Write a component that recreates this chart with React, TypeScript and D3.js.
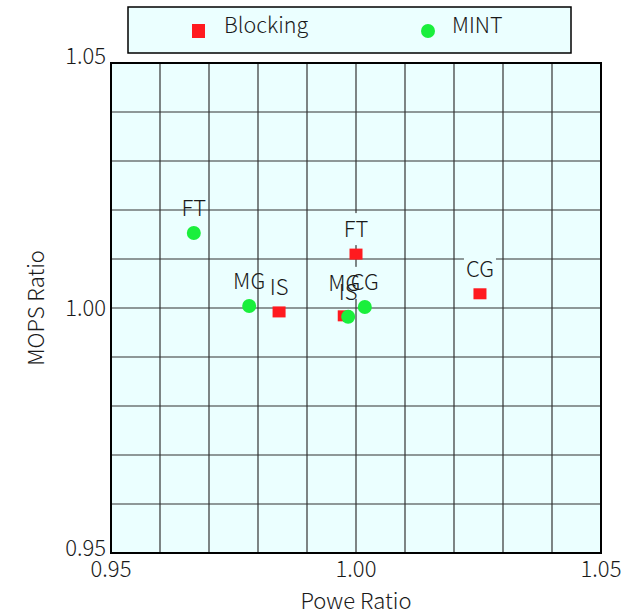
import React, { useEffect, useRef } from 'react';
import * as d3 from 'd3';

const blockingLabels = ['IS', 'FT', 'CG', 'MG'];
const blockingPower = [0.9843, 1.0, 1.0253, 0.9976];
const blockingMops = [0.9992, 1.011, 1.0029, 0.9984];

const mintLabels = ['FT', 'MG', 'IS', 'CG'];
const mintPower = [0.9669, 0.9782, 0.9984, 1.0018];
const mintMops = [1.0153, 1.0004, 0.9982, 1.0002];

const tickValues = [0.95, 1.0, 1.05];
const gridValues = d3.range(0, 11).map(i => 0.95 + i * 0.01);

const FONT = '"Noto Sans CJK JP", "Noto Sans", sans-serif';
const BG = '#ebffff';
const RED = '#ff1a1f';
const GREEN = '#1aef3c';

function App() {
  const svgRef = useRef<SVGSVGElement>(null);
  const width = 628;
  const height = 615;

  useEffect(() => {
    if (!svgRef.current) return;
    const svg = d3.select(svgRef.current);
    svg.selectAll('*').remove();

    const margin = { top: 63, right: 27, bottom: 62, left: 111 };
    const innerWidth = width - margin.left - margin.right;
    const innerHeight = height - margin.top - margin.bottom;

    const x = d3.scaleLinear().domain([0.95, 1.05]).range([0, innerWidth]);
    const y = d3.scaleLinear().domain([0.95, 1.05]).range([innerHeight, 0]);

    const g = svg.append('g').attr('transform', `translate(${margin.left},${margin.top})`);

    const txt = (sel: d3.Selection<SVGTextElement, any, any, any>, size: number) =>
      sel.style('font-family', FONT)
        .style('font-size', `${size}px`)
        .style('font-weight', 300)
        .style('fill', '#1a1a1a');

    // plot background
    g.append('rect')
      .attr('width', innerWidth)
      .attr('height', innerHeight)
      .attr('fill', BG);

    // grid
    g.selectAll('.vgrid')
      .data(gridValues)
      .enter().append('line')
      .attr('x1', d => x(d)).attr('x2', d => x(d))
      .attr('y1', 0).attr('y2', innerHeight)
      .attr('stroke', '#333')
      .attr('stroke-width', 1.2);
    g.selectAll('.hgrid')
      .data(gridValues)
      .enter().append('line')
      .attr('y1', d => y(d)).attr('y2', d => y(d))
      .attr('x1', 0).attr('x2', innerWidth)
      .attr('stroke', '#333')
      .attr('stroke-width', 1.2);

    // border
    g.append('rect')
      .attr('width', innerWidth)
      .attr('height', innerHeight)
      .attr('fill', 'none')
      .attr('stroke', '#000')
      .attr('stroke-width', 2);

    // tick labels
    txt(g.selectAll('.xtick')
      .data(tickValues)
      .enter().append('text')
      .attr('x', d => x(d))
      .attr('y', innerHeight + 24)
      .attr('text-anchor', 'middle')
      .text(d => d.toFixed(2)), 22);

    txt(g.selectAll('.ytick')
      .data(tickValues)
      .enter().append('text')
      .attr('x', -5)
      .attr('y', d => y(d) + (d === 1.0 ? 8 : d === 0.95 ? 3 : 1))
      .attr('text-anchor', 'end')
      .text(d => d.toFixed(2)), 22);

    // axis titles
    txt(svg.append('text')
      .attr('x', margin.left + innerWidth / 2)
      .attr('y', 609)
      .attr('text-anchor', 'middle')
      .text('Powe Ratio'), 22);

    txt(svg.append('text')
      .attr('transform', `translate(44,${margin.top + innerHeight / 2}) rotate(-90)`)
      .attr('text-anchor', 'middle')
      .text('MOPS Ratio'), 22);

    const blocking = blockingLabels.map((l, i) => ({ label: l, px: blockingPower[i], py: blockingMops[i], red: true }));
    const mint = mintLabels.map((l, i) => ({ label: l, px: mintPower[i], py: mintMops[i], red: false }));

    // points
    g.selectAll('.sq')
      .data(blocking)
      .enter().append('rect')
      .attr('x', d => x(d.px) - 6.5)
      .attr('y', d => y(d.py) - 5.5)
      .attr('width', 13)
      .attr('height', 11)
      .attr('fill', RED);

    g.selectAll('.dot')
      .data(mint)
      .enter().append('circle')
      .attr('cx', d => x(d.px))
      .attr('cy', d => y(d.py))
      .attr('r', 7)
      .attr('fill', GREEN);

    // data labels (the crowded red MG label sits a little higher)
    const addLabels = (data: { label: string; px: number; py: number; red: boolean }[], boxed: boolean) => {
      data.forEach(d => {
        const lift = d.red && d.label === 'MG' ? 8 : 0;
        const lg = g.append('g');
        const t = txt(lg.append('text')
          .attr('x', x(d.px))
          .attr('y', y(d.py) - 17 - lift)
          .attr('text-anchor', 'middle')
          .text(d.label), 22);
        if (boxed) {
          const b = (t.node() as SVGTextElement).getBBox();
          lg.insert('rect', 'text')
            .attr('x', b.x - 2)
            .attr('y', b.y + 2)
            .attr('width', b.width + 4)
            .attr('height', b.height)
            .attr('fill', BG);
        }
      });
    };
    addLabels(blocking, true);
    addLabels(mint, false);

    // legend
    const legend = svg.append('g');
    legend.append('rect')
      .attr('x', 128).attr('y', 7)
      .attr('width', 443).attr('height', 46)
      .attr('fill', BG)
      .attr('stroke', '#000')
      .attr('stroke-width', 1.5);
    legend.append('rect')
      .attr('x', 192).attr('y', 24)
      .attr('width', 13).attr('height', 14)
      .attr('fill', RED);
    txt(legend.append('text')
      .attr('x', 224).attr('y', 33)
      .text('Blocking'), 21.5);
    legend.append('circle')
      .attr('cx', 428).attr('cy', 31)
      .attr('r', 7)
      .attr('fill', GREEN);
    txt(legend.append('text')
      .attr('x', 452).attr('y', 33)
      .text('MINT'), 21.5);
  }, []);

  return (
    <svg
      ref={svgRef}
      width={width}
      height={height}
      style={{ position: 'absolute', left: 0, top: 0, background: '#fff' }}
    />
  );
}

export default App;
